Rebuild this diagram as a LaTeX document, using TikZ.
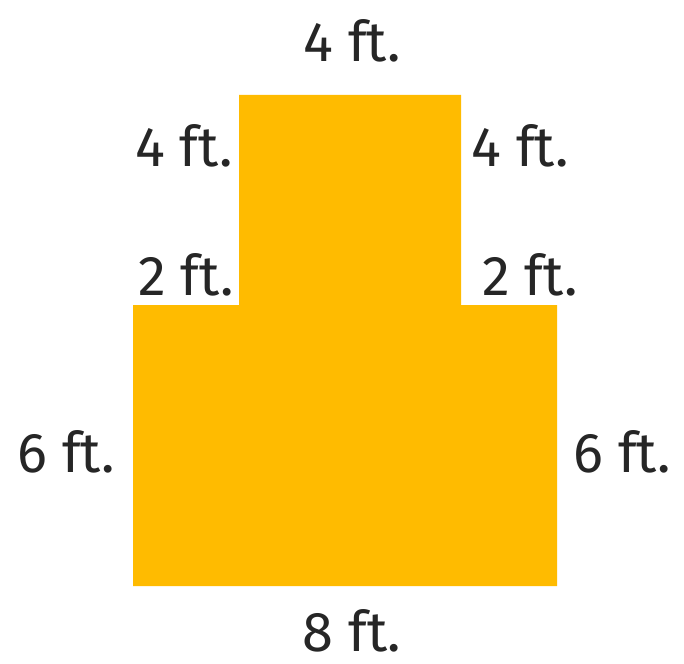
\documentclass[tikz,border=0pt]{standalone}
\usepackage{fontspec}
\setmainfont{Fira Sans}
\definecolor{shapeyellow}{HTML}{FFBB00}
\begin{document}
\begin{tikzpicture}[x=1pt,y=-1pt,
  lbl/.style={anchor=base,inner sep=0pt,font=\fontsize{56}{56}\selectfont,text=black!85}]
\useasboundingbox (0,0) rectangle (684,663);
\fill[shapeyellow] (239,95) -- (461,95) -- (461,305) -- (557,305) -- (557,586) -- (133,586) -- (133,305) -- (239,305) -- cycle;
\node[lbl] (top) at (352,62) {4 ft.};
\node[lbl] (lt) at (184,166) {4 ft.};
\node[lbl] (rt) at (520,166) {4 ft.};
\node[lbl] (l2) at (186,295) {2 ft.};
\node[lbl] (r2) at (530,295) {2 ft.};
\node[lbl] (l6) at (66,472) {6 ft.};
\node[lbl] (r6) at (622,472) {6 ft.};
\node[lbl] (bot) at (352,651) {8 ft.};
\end{tikzpicture}
\end{document}
